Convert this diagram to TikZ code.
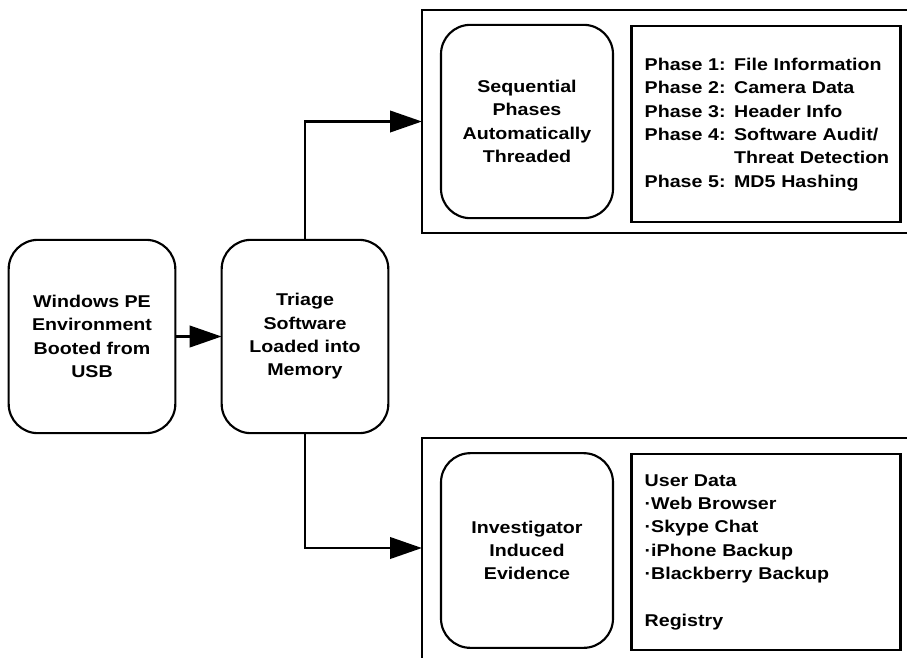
\documentclass[tikz,border=0pt]{standalone}
\usepackage{fontspec}
\setmainfont{Liberation Sans}[FakeStretch=1.15]
\usetikzlibrary{arrows.meta}

\tikzset{
  boxfont/.style={font=\fontsize{12.8pt}{17.5pt}\selectfont\bfseries},
  roundbox/.style={boxfont, draw, line width=1.6pt, rounded corners=22pt,
    minimum width=125pt, minimum height=145pt, align=center, outer sep=0},
  listbox/.style={boxfont, draw, line width=2.2pt, text width=182pt,
    inner xsep=10pt, minimum height=147pt, align=left, outer sep=0},
  groupframe/.style={draw=none, inner sep=0, outer sep=0},
  frameline/.style={line width=2.2pt},
  flowarrow/.style={line width=2.2pt, -{Triangle[length=24pt,width=16pt]}}
}

\begin{document}
\begin{tikzpicture}[x=0.75pt,y=-0.75pt]
\useasboundingbox (0,0) rectangle (907,658);

\node[roundbox] (winpe) at (92,336.5) {Windows PE\\Environment\\Booted from\\USB};
\node[roundbox] (triage) at (305,336.5) {Triage\\Software\\Loaded into\\Memory};

% upper group
\node[groupframe, minimum width=363.75pt, minimum height=167.25pt] (autoframe) at (664.5,121.5) {};
\draw[frameline] (autoframe.north east) -- (autoframe.north west) -- (autoframe.south west) -- (autoframe.south east);

\node[roundbox, minimum width=129pt] (seq) at (527,121.5) {Sequential\\Phases\\Automatically\\Threaded};
\node[listbox] (phases) at (766,124) {%
  \begin{tabular}{@{}l@{ }l@{}}
  Phase 1: & File Information\\
  Phase 2: & Camera Data\\
  Phase 3: & Header Info\\
  Phase 4: & Software Audit/\\
           & Threat Detection\\
  Phase 5: & MD5 Hashing
  \end{tabular}};

% lower group, cut off at the page foot
\node[groupframe, minimum width=363.75pt, minimum height=165pt] (userframe) at (664.5,548) {};
\draw[frameline] (userframe.north east) -- (userframe.north west) -- (userframe.south west);

\node[roundbox, minimum width=129pt, minimum height=146pt] (invest) at (527,550.5) {Investigator\\Induced\\Evidence};
\node[listbox] (userdata) at (766,552) {User Data\\·Web Browser\\·Skype Chat\\·iPhone Backup\\·Blackberry Backup\\[17.5pt]Registry};

\draw[flowarrow] (winpe) -- (triage);
\draw[flowarrow] (triage.north) |- (autoframe.west);
\draw[flowarrow] (triage.south) |- (userframe.west);

\end{tikzpicture}
\end{document}
